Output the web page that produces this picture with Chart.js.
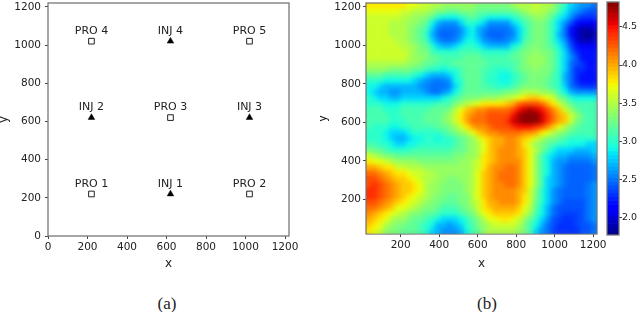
<!DOCTYPE html>
<html lang="en">
<head>
    <meta charset="UTF-8">
    <title>Well layout and field map</title>
    <style>
        body { margin: 0; background: #fff; }
        #page { position: relative; width: 640px; height: 312px; overflow: hidden; background: #fff; filter: blur(0.4px); }
        canvas { position: absolute; top: 0; }
        #wells { left: 0; }
        #field { left: 320px; }
        #cbar { left: 600px; }
        /* the source image is smooth, soften the cells inside the axes only */
        #soften { position: absolute; left: 366.5px; top: 4px; width: 230px; height: 229.5px; backdrop-filter: blur(2px); }
        .caption { position: absolute; top: 294px; font: 17px 'Liberation Serif', serif; color: #222; width: 60px; text-align: center; }
    </style>
</head>
<body>
<div id="page">
    <canvas id="wells" width="320" height="280"></canvas>
    <canvas id="field" width="320" height="280"></canvas>
    <canvas id="cbar" width="40" height="280"></canvas>
    <div id="soften"></div>
    <div class="caption" style="left:137px">(a)</div>
    <div class="caption" style="left:457px">(b)</div>
</div>

    <script src="https://cdn.jsdelivr.net/npm/chart.js"></script>
    <script>
        // well positions
        const proNames = ['PRO 1', 'PRO 2', 'PRO 3', 'PRO 4', 'PRO 5'];
        const proX = [220, 1020, 620, 220, 1020];
        const proY = [220, 220, 620, 1020, 1020];
        const injNames = ['INJ 1', 'INJ 2', 'INJ 3', 'INJ 4'];
        const injX = [620, 220, 1020, 620];
        const injY = [220, 620, 620, 1020];

        const wellTicks = [0, 200, 400, 600, 800, 1000, 1200];
        const fieldTicks = [200, 400, 600, 800, 1000, 1200];
        const cbarTicks = [2.0, 2.5, 3.0, 3.5, 4.0, 4.5];

        // colour bar steps
        const cbarLevels = [1.8, 1.85, 1.9, 1.95, 2.0, 2.05, 2.1, 2.15, 2.2, 2.25, 2.3, 2.35, 2.4, 2.45, 2.5, 2.55, 2.6, 2.65, 2.7, 2.75, 2.8, 2.85, 2.9, 2.95, 3.0, 3.05, 3.1, 3.15, 3.2, 3.25, 3.3, 3.35, 3.4, 3.45, 3.5, 3.55, 3.6, 3.65, 3.7, 3.75, 3.8, 3.85, 3.9, 3.95, 4.0, 4.05, 4.1, 4.15, 4.2, 4.25, 4.3, 4.35, 4.4, 4.45, 4.5, 4.55, 4.6, 4.65, 4.7, 4.75, 4.8];

        // field cell centres
        const gridX = [35, 65, 95, 125, 155, 185, 215, 245, 275, 305, 335, 365, 395, 425, 455, 485, 515, 545, 575, 605, 635, 665, 695, 725, 755, 785, 815, 845, 875, 905, 935, 965, 995, 1025, 1055, 1085, 1115, 1145, 1175, 1205];
        const gridY = [1205, 1175, 1145, 1115, 1085, 1055, 1025, 995, 965, 935, 905, 875, 845, 815, 785, 755, 725, 695, 665, 635, 605, 575, 545, 515, 485, 455, 425, 395, 365, 335, 305, 275, 245, 215, 185, 155, 125, 95, 65, 35];

        // field values, one row per gridY
        const fieldRows = [
            [3.8,3.8,3.8,3.8,3.8,3.8,3.8,3.7,3.7,3.6,3.6,3.5,3.5,3.4,3.4,3.4,3.4,3.4,3.4,3.3,3.3,3.3,3.3,3.3,3.3,3.4,3.5,3.5,3.5,3.6,3.5,3.5,3.4,3.2,3.0,2.8,2.7,2.6,2.6,2.5],
            [3.7,3.7,3.7,3.7,3.7,3.7,3.6,3.6,3.5,3.5,3.5,3.4,3.3,3.3,3.2,3.2,3.3,3.3,3.3,3.2,3.2,3.2,3.2,3.2,3.2,3.2,3.3,3.4,3.5,3.5,3.5,3.4,3.3,3.1,2.9,2.7,2.6,2.5,2.4,2.4],
            [3.6,3.6,3.6,3.6,3.6,3.6,3.5,3.5,3.4,3.4,3.3,3.2,3.0,2.9,2.9,2.9,3.0,3.1,3.2,3.1,3.0,2.9,2.9,2.9,2.9,3.0,3.1,3.2,3.3,3.4,3.4,3.3,3.1,2.9,2.8,2.6,2.4,2.3,2.3,2.3],
            [3.6,3.6,3.6,3.6,3.5,3.5,3.5,3.4,3.4,3.3,3.2,2.9,2.7,2.6,2.6,2.6,2.8,3.0,3.0,2.9,2.8,2.6,2.6,2.6,2.6,2.8,2.9,3.1,3.2,3.3,3.3,3.2,3.0,2.8,2.6,2.4,2.2,2.1,2.1,2.1],
            [3.6,3.6,3.6,3.6,3.5,3.5,3.5,3.4,3.3,3.2,3.1,2.8,2.55,2.5,2.5,2.5,2.6,2.8,2.9,2.7,2.6,2.5,2.5,2.5,2.5,2.6,2.8,3.0,3.2,3.3,3.3,3.2,3.0,2.8,2.5,2.2,2.0,1.9,1.9,2.0],
            [3.6,3.6,3.6,3.6,3.5,3.5,3.5,3.4,3.3,3.2,3.0,2.7,2.5,2.45,2.45,2.5,2.6,2.8,2.9,2.7,2.55,2.45,2.45,2.45,2.5,2.55,2.8,3.0,3.2,3.3,3.3,3.2,3.0,2.7,2.5,2.2,2.0,1.9,1.8,1.9],
            [3.6,3.6,3.6,3.6,3.6,3.5,3.5,3.4,3.3,3.2,3.1,2.8,2.6,2.5,2.5,2.55,2.7,2.9,2.9,2.8,2.6,2.55,2.5,2.5,2.55,2.65,2.8,3.1,3.2,3.3,3.3,3.2,3.0,2.8,2.6,2.3,2.0,1.9,1.9,2.0],
            [3.6,3.6,3.6,3.6,3.6,3.6,3.5,3.5,3.4,3.3,3.2,3.0,2.8,2.7,2.7,2.8,2.9,3.0,3.0,2.9,2.8,2.7,2.7,2.7,2.7,2.9,3.0,3.2,3.3,3.3,3.3,3.2,3.1,2.9,2.7,2.4,2.2,2.1,2.1,2.1],
            [3.6,3.6,3.6,3.6,3.6,3.6,3.6,3.5,3.4,3.3,3.3,3.1,3.0,3.0,3.0,3.0,3.1,3.1,3.1,3.1,3.0,3.0,3.0,3.0,3.0,3.1,3.2,3.3,3.3,3.4,3.3,3.3,3.2,3.0,2.8,2.5,2.3,2.2,2.2,2.2],
            [3.6,3.6,3.6,3.6,3.6,3.6,3.6,3.5,3.4,3.4,3.3,3.2,3.2,3.1,3.1,3.1,3.1,3.2,3.2,3.2,3.1,3.1,3.1,3.1,3.1,3.2,3.2,3.3,3.4,3.4,3.4,3.3,3.2,3.0,2.8,2.6,2.4,2.2,2.2,2.2],
            [3.5,3.5,3.5,3.5,3.5,3.5,3.5,3.4,3.4,3.3,3.2,3.2,3.1,3.1,3.1,3.2,3.2,3.2,3.2,3.2,3.2,3.1,3.1,3.1,3.1,3.1,3.2,3.3,3.4,3.4,3.4,3.3,3.2,3.0,2.8,2.5,2.4,2.3,2.2,2.2],
            [3.4,3.4,3.4,3.4,3.3,3.3,3.3,3.3,3.2,3.2,3.1,3.0,3.0,2.9,3.0,3.0,3.1,3.2,3.2,3.2,3.1,3.1,3.0,3.0,3.0,3.1,3.2,3.3,3.3,3.4,3.3,3.3,3.2,3.0,2.8,2.5,2.3,2.3,2.2,2.2],
            [3.2,3.2,3.2,3.1,3.1,3.1,3.1,3.1,3.0,2.9,2.8,2.7,2.7,2.7,2.8,2.9,3.1,3.2,3.2,3.2,3.1,3.0,3.0,2.9,2.9,3.0,3.1,3.2,3.3,3.3,3.3,3.3,3.1,3.0,2.7,2.5,2.3,2.2,2.2,2.2],
            [3.0,3.0,3.0,2.9,2.9,2.9,2.9,2.9,2.8,2.7,2.6,2.55,2.5,2.55,2.6,2.9,3.0,3.2,3.2,3.2,3.1,3.0,3.0,2.9,2.9,3.0,3.1,3.2,3.3,3.3,3.3,3.2,3.1,3.0,2.7,2.5,2.3,2.2,2.2,2.2],
            [2.9,2.9,2.8,2.7,2.7,2.7,2.7,2.7,2.7,2.6,2.55,2.5,2.5,2.5,2.55,2.8,3.0,3.2,3.2,3.2,3.1,3.1,3.0,3.0,3.0,3.1,3.2,3.3,3.3,3.3,3.3,3.2,3.1,3.0,2.8,2.5,2.4,2.3,2.3,2.3],
            [2.9,2.8,2.7,2.7,2.6,2.6,2.7,2.7,2.7,2.7,2.6,2.5,2.5,2.6,2.7,2.9,3.1,3.2,3.2,3.2,3.2,3.2,3.2,3.2,3.3,3.3,3.4,3.5,3.5,3.5,3.4,3.4,3.3,3.1,2.9,2.7,2.6,2.6,2.6,2.6],
            [3.0,2.9,2.8,2.8,2.7,2.7,2.8,2.8,2.8,2.8,2.8,2.8,2.8,2.9,3.0,3.1,3.2,3.3,3.3,3.3,3.4,3.4,3.4,3.5,3.5,3.6,3.7,3.8,3.9,3.9,3.8,3.7,3.6,3.3,3.2,3.0,2.9,2.9,2.9,2.9],
            [3.0,3.0,3.0,2.9,2.9,2.9,3.0,3.0,3.0,3.0,3.0,3.0,3.1,3.1,3.1,3.3,3.4,3.5,3.6,3.7,3.8,3.8,3.8,3.8,3.9,4.0,4.2,4.3,4.3,4.3,4.2,4.0,3.8,3.6,3.4,3.2,3.1,3.1,3.1,3.1],
            [3.1,3.1,3.1,3.0,3.0,3.0,3.1,3.1,3.1,3.1,3.1,3.2,3.2,3.2,3.3,3.5,3.7,3.9,4.0,4.1,4.1,4.2,4.2,4.2,4.2,4.3,4.5,4.6,4.7,4.6,4.5,4.3,4.1,3.9,3.6,3.4,3.2,3.1,3.1,3.1],
            [3.1,3.1,3.1,3.1,3.0,3.0,3.1,3.1,3.1,3.1,3.2,3.2,3.2,3.3,3.4,3.6,3.8,4.0,4.1,4.2,4.2,4.3,4.3,4.3,4.3,4.5,4.7,4.8,4.8,4.8,4.6,4.4,4.2,4.0,3.9,3.6,3.4,3.2,3.1,3.1],
            [3.1,3.1,3.1,3.1,3.0,3.0,3.0,3.1,3.1,3.1,3.2,3.2,3.2,3.3,3.4,3.6,3.8,4.0,4.2,4.2,4.2,4.3,4.3,4.3,4.4,4.6,4.7,4.8,4.8,4.8,4.6,4.4,4.2,4.0,3.9,3.6,3.3,3.2,3.1,3.1],
            [3.1,3.0,3.0,3.0,2.9,2.9,3.0,3.0,3.1,3.1,3.1,3.1,3.2,3.2,3.3,3.4,3.6,3.8,4.0,4.1,4.1,4.2,4.3,4.3,4.3,4.4,4.5,4.5,4.5,4.4,4.3,4.1,3.9,3.7,3.5,3.3,3.2,3.1,3.1,3.1],
            [3.0,3.0,3.0,2.9,2.8,2.8,2.8,2.9,3.0,3.0,3.0,3.0,3.0,3.1,3.2,3.3,3.4,3.5,3.7,3.9,4.0,4.1,4.1,4.2,4.2,4.2,4.2,4.1,4.1,4.0,3.8,3.7,3.5,3.4,3.3,3.2,3.1,3.1,3.1,3.1],
            [3.0,3.0,3.0,2.9,2.8,2.7,2.7,2.8,2.9,2.9,3.0,3.0,2.9,3.0,3.0,3.1,3.2,3.3,3.4,3.6,3.8,3.9,4.0,4.0,4.1,4.1,4.0,3.9,3.8,3.6,3.5,3.3,3.3,3.2,3.1,3.0,3.0,3.0,3.0,3.0],
            [3.1,3.1,3.0,3.0,2.9,2.8,2.8,2.9,2.9,3.0,3.0,3.0,3.0,3.0,3.0,3.1,3.2,3.3,3.4,3.5,3.7,3.9,4.0,4.0,4.1,4.1,4.0,3.8,3.6,3.4,3.3,3.2,3.1,3.0,3.0,2.9,2.9,2.9,2.8,2.8],
            [3.3,3.2,3.2,3.1,3.0,3.0,3.0,3.0,3.1,3.1,3.1,3.1,3.1,3.1,3.1,3.2,3.2,3.3,3.4,3.5,3.7,3.9,4.0,4.1,4.1,4.1,4.0,3.9,3.7,3.5,3.3,3.1,2.9,2.8,2.8,2.8,2.7,2.7,2.7,2.8],
            [3.6,3.5,3.4,3.3,3.3,3.2,3.2,3.2,3.2,3.2,3.2,3.2,3.2,3.2,3.2,3.3,3.3,3.4,3.4,3.5,3.8,3.9,4.0,4.1,4.1,4.1,4.0,3.9,3.7,3.4,3.1,2.9,2.8,2.7,2.7,2.6,2.6,2.6,2.6,2.7],
            [3.8,3.7,3.7,3.6,3.5,3.4,3.4,3.4,3.4,3.3,3.3,3.3,3.3,3.3,3.3,3.3,3.4,3.4,3.5,3.6,3.8,3.9,4.0,4.1,4.1,4.1,4.1,3.9,3.7,3.4,3.1,2.9,2.7,2.6,2.6,2.5,2.5,2.5,2.5,2.6],
            [4.0,4.0,3.9,3.8,3.8,3.6,3.6,3.5,3.5,3.5,3.4,3.4,3.4,3.4,3.4,3.4,3.4,3.4,3.5,3.6,3.8,4.0,4.1,4.1,4.2,4.2,4.1,3.9,3.7,3.4,3.1,2.9,2.7,2.6,2.5,2.45,2.45,2.45,2.45,2.5],
            [4.2,4.2,4.1,4.0,3.9,3.8,3.8,3.7,3.6,3.6,3.5,3.5,3.4,3.4,3.4,3.4,3.4,3.4,3.5,3.7,3.9,4.0,4.1,4.2,4.2,4.2,4.1,3.9,3.7,3.4,3.1,2.9,2.7,2.6,2.5,2.45,2.45,2.45,2.45,2.5],
            [4.3,4.3,4.2,4.1,4.0,3.9,3.9,3.8,3.7,3.6,3.5,3.5,3.4,3.4,3.3,3.3,3.4,3.4,3.5,3.7,3.9,4.0,4.1,4.2,4.2,4.2,4.1,3.9,3.7,3.4,3.1,2.8,2.7,2.6,2.5,2.45,2.45,2.45,2.45,2.5],
            [4.3,4.4,4.3,4.2,4.1,4.0,3.9,3.9,3.8,3.7,3.5,3.4,3.4,3.3,3.3,3.3,3.3,3.4,3.5,3.7,3.9,4.0,4.1,4.1,4.2,4.2,4.1,3.9,3.7,3.4,3.1,2.8,2.7,2.6,2.5,2.45,2.45,2.45,2.5,2.6],
            [4.4,4.4,4.3,4.2,4.1,4.0,3.9,3.9,3.8,3.7,3.5,3.4,3.4,3.3,3.3,3.3,3.3,3.4,3.5,3.7,3.9,4.0,4.1,4.1,4.1,4.1,4.0,3.9,3.6,3.3,3.0,2.8,2.6,2.5,2.45,2.45,2.45,2.45,2.5,2.6],
            [4.4,4.4,4.3,4.2,4.1,4.0,3.9,3.8,3.7,3.6,3.5,3.4,3.3,3.3,3.2,3.2,3.3,3.3,3.5,3.7,3.9,4.0,4.1,4.1,4.1,4.1,4.0,3.8,3.6,3.3,3.0,2.8,2.6,2.5,2.45,2.45,2.45,2.45,2.5,2.6],
            [4.3,4.3,4.2,4.1,4.0,3.9,3.8,3.7,3.6,3.5,3.4,3.3,3.3,3.2,3.2,3.2,3.3,3.3,3.5,3.6,3.8,4.0,4.0,4.1,4.1,4.1,4.0,3.8,3.6,3.2,3.0,2.8,2.6,2.5,2.4,2.4,2.4,2.4,2.5,2.6],
            [4.2,4.2,4.1,4.0,3.9,3.7,3.7,3.6,3.5,3.4,3.3,3.3,3.2,3.1,3.1,3.1,3.2,3.3,3.4,3.6,3.8,3.9,4.0,4.0,4.0,4.0,3.9,3.7,3.5,3.2,2.9,2.7,2.5,2.4,2.4,2.4,2.4,2.4,2.5,2.6],
            [4.1,4.0,3.9,3.8,3.7,3.6,3.5,3.4,3.3,3.3,3.2,3.2,3.1,3.0,3.0,3.0,3.1,3.2,3.3,3.5,3.7,3.8,3.9,3.9,3.9,3.9,3.8,3.6,3.4,3.1,2.9,2.7,2.5,2.4,2.35,2.35,2.35,2.4,2.5,2.6],
            [4.0,3.9,3.8,3.7,3.5,3.4,3.4,3.3,3.2,3.2,3.1,3.0,2.9,2.8,2.8,2.8,2.9,3.0,3.2,3.3,3.5,3.7,3.7,3.8,3.8,3.7,3.6,3.4,3.2,3.0,2.8,2.6,2.4,2.35,2.3,2.3,2.35,2.4,2.5,2.6],
            [3.9,3.8,3.7,3.5,3.4,3.3,3.3,3.2,3.2,3.1,3.0,2.9,2.7,2.7,2.6,2.7,2.8,3.0,3.1,3.3,3.4,3.5,3.6,3.6,3.6,3.6,3.5,3.3,3.1,2.9,2.7,2.5,2.4,2.3,2.3,2.3,2.35,2.4,2.4,2.5],
            [3.8,3.7,3.6,3.4,3.3,3.3,3.2,3.2,3.2,3.1,3.0,2.8,2.7,2.6,2.6,2.6,2.7,2.9,3.1,3.2,3.4,3.5,3.5,3.5,3.5,3.5,3.4,3.3,3.1,2.8,2.6,2.5,2.35,2.3,2.3,2.3,2.3,2.4,2.4,2.5]
        ];

        const colorMin = 1.775;
        const colorMax = 4.825;
        const textColor = '#222';
        const spineColor = '#777';

        function ramp(t, a, b) {
            return Math.max(0, Math.min(1, (t - a) / (b - a)));
        }

        // matplotlib jet
        function jet(v) {
            const t = (v - colorMin) / (colorMax - colorMin);
            const r = t < 0.89 ? ramp(t, 0.35, 0.66) : 1 - 0.5 * ramp(t, 0.89, 1);
            const g = t < 0.64 ? ramp(t, 0.125, 0.375) : 1 - ramp(t, 0.64, 0.91);
            const b = t < 0.34 ? 0.5 + 0.5 * ramp(t, 0, 0.11) : 1 - ramp(t, 0.34, 0.65);
            return `rgb(${Math.round(r * 255)},${Math.round(g * 255)},${Math.round(b * 255)})`;
        }

        function axis(min, max, ticks, title, size, font, pad, titleOffset) {
            const horizontal = title === 'x';
            return {
                type: 'linear',
                min: min,
                max: max,
                afterBuildTicks: s => { s.ticks = ticks.map(v => ({ value: v })); },
                afterFit: s => {
                    if (horizontal) s.height = size; else s.width = size;
                    // no room kept for the end labels
                    s.paddingTop = s.paddingBottom = s.paddingLeft = s.paddingRight = 0;
                },
                grid: { drawOnChartArea: false, tickLength: 3, color: '#444' },
                border: { display: false },
                ticks: { autoSkip: false, maxRotation: 0, color: textColor, font: { family: 'DejaVu Sans', size: font }, padding: pad, callback: v => String(v) },
                title: { display: true, text: title, color: textColor, font: { family: 'DejaVu Sans', size: 12 }, padding: { top: titleOffset, bottom: titleOffset } }
            };
        }

        // frame around the axes
        const frame = {
            id: 'frame',
            afterDraw(chart) {
                const a = chart.chartArea;
                const ctx = chart.ctx;
                ctx.save();
                ctx.strokeStyle = spineColor;
                ctx.lineWidth = 1.3;
                ctx.strokeRect(a.left, a.top, a.right - a.left, a.bottom - a.top);
                ctx.restore();
            }
        };

        // well names above the markers
        const wellLabels = {
            id: 'wellLabels',
            afterDatasetsDraw(chart) {
                const ctx = chart.ctx;
                ctx.save();
                ctx.fillStyle = textColor;
                ctx.font = "11px 'DejaVu Sans'";
                ctx.textAlign = 'center';
                ctx.textBaseline = 'middle';
                chart.data.datasets.forEach(ds => {
                    ds.data.forEach((p, i) => {
                        ctx.fillText(ds.names[i], chart.scales.x.getPixelForValue(p.x), chart.scales.y.getPixelForValue(p.y) - 10);
                    });
                });
                ctx.restore();
            }
        };

        new Chart(document.getElementById('wells'), {
            type: 'scatter',
            data: {
                datasets: [
                    {
                        names: proNames,
                        data: proX.map((x, i) => ({ x: x, y: proY[i] })),
                        pointStyle: 'rect',
                        pointRadius: 4,
                        pointBackgroundColor: '#fff',
                        pointBorderColor: '#222',
                        pointBorderWidth: 1
                    },
                    {
                        names: injNames,
                        data: injX.map((x, i) => ({ x: x, y: injY[i] })),
                        pointStyle: 'triangle',
                        pointRadius: 3.8,
                        pointBackgroundColor: '#000',
                        pointBorderColor: '#000',
                        pointBorderWidth: 0.5
                    }
                ]
            },
            options: {
                responsive: false,
                animation: false,
                layout: { autoPadding: false, padding: { top: 3, right: 31, bottom: 0, left: 0 } },
                plugins: { legend: { display: false }, tooltip: { enabled: false } },
                scales: {
                    x: axis(0, 1220, wellTicks, 'x', 44, 10.5, 2, 9),
                    y: axis(0, 1220, wellTicks, 'y', 48, 10.5, 4, -3)
                }
            },
            plugins: [wellLabels, frame]
        });

        const cells = [];
        fieldRows.forEach((row, r) => {
            row.forEach((v, c) => {
                cells.push({ x: gridX[c], y: gridY[r], v: v });
            });
        });

        new Chart(document.getElementById('field'), {
            type: 'scatter',
            data: {
                datasets: [{
                    data: cells,
                    pointStyle: 'rect',
                    pointBorderWidth: 0,
                    pointBackgroundColor: c => jet(c.raw.v),
                    // cell width in pixels, rect style draws radius * sqrt2 wide
                    pointRadius: c => {
                        const xs = c.chart.scales.x;
                        return (Math.abs(xs.getPixelForValue(gridX[1]) - xs.getPixelForValue(gridX[0])) + 0.6) / Math.SQRT2;
                    }
                }]
            },
            options: {
                responsive: false,
                animation: false,
                layout: { autoPadding: false, padding: { top: 3, right: 43, bottom: 0, left: 0 } },
                plugins: { legend: { display: false }, tooltip: { enabled: false } },
                scales: {
                    x: axis(20, 1220, fieldTicks, 'x', 46, 10.5, 2, 9),
                    y: axis(20, 1220, fieldTicks, 'y', 46, 10.5, 2, -4)
                }
            },
            plugins: [frame]
        });

        const cbarAxis = axis(colorMin, colorMax, cbarTicks, 'v', 21, 9.5, 0, 0);
        cbarAxis.position = 'right';
        cbarAxis.offset = false;
        cbarAxis.grid.offset = false;
        cbarAxis.title = { display: false };
        cbarAxis.ticks.callback = v => v.toFixed(1);

        new Chart(document.getElementById('cbar'), {
            type: 'bar',
            data: {
                datasets: [{
                    data: cbarLevels.map(v => ({ x: 1, y: v })),
                    backgroundColor: c => jet(c.raw.y),
                    barPercentage: 1,
                    categoryPercentage: 1,
                    borderWidth: 0
                }]
            },
            options: {
                responsive: false,
                animation: false,
                indexAxis: 'y',
                layout: { autoPadding: false, padding: { top: 2, right: 0, bottom: 45, left: 7 } },
                plugins: { legend: { display: false }, tooltip: { enabled: false } },
                scales: {
                    x: { type: 'linear', display: false, min: 0, max: 1 },
                    y: cbarAxis
                }
            },
            plugins: [frame]
        });
    </script>
</body>
</html>
